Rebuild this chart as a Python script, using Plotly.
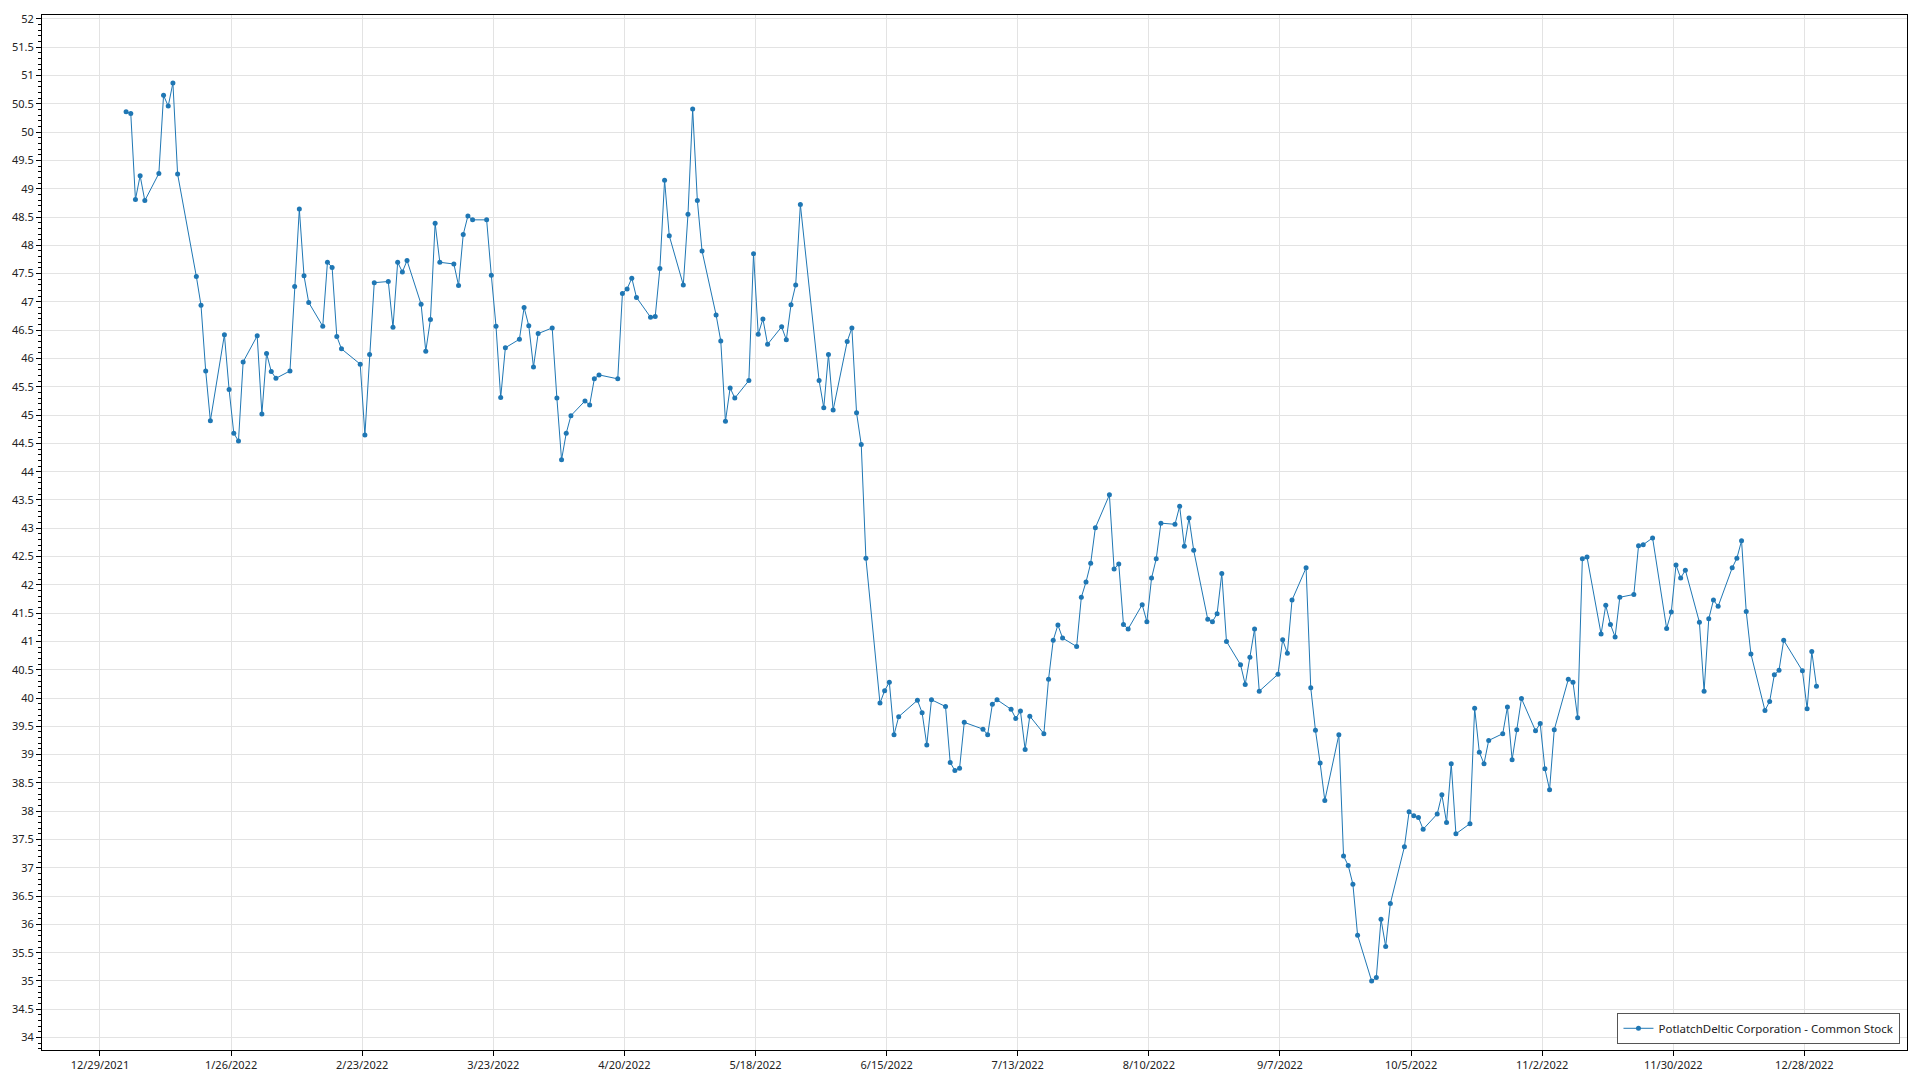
import plotly.graph_objects as go

SERIES_NAME = "PotlatchDeltic Corporation - Common Stock"

# Trading days of 2022 (day-of-month per month)
DAYS = {
    1: [3, 4, 5, 6, 7, 10, 11, 12, 13, 14, 18, 19, 20, 21, 24, 25, 26, 27, 28, 31],
    2: [1, 2, 3, 4, 7, 8, 9, 10, 11, 14, 15, 16, 17, 18, 22, 23, 24, 25, 28],
    3: [1, 2, 3, 4, 7, 8, 9, 10, 11, 14, 15, 16, 17, 18, 21, 22, 23, 24, 25, 28, 29, 30, 31],
    4: [1, 4, 5, 6, 7, 8, 11, 12, 13, 14, 18, 19, 20, 21, 22, 25, 26, 27, 28, 29],
    5: [2, 3, 4, 5, 6, 9, 10, 11, 12, 13, 16, 17, 18, 19, 20, 23, 24, 25, 26, 27, 31],
    6: [1, 2, 3, 6, 7, 8, 9, 10, 13, 14, 15, 16, 17, 21, 22, 23, 24, 27, 28, 29, 30],
    7: [1, 5, 6, 7, 8, 11, 12, 13, 14, 15, 18, 19, 20, 21, 22, 25, 26, 27, 28, 29],
    8: [1, 2, 3, 4, 5, 8, 9, 10, 11, 12, 15, 16, 17, 18, 19, 22, 23, 24, 25, 26, 29, 30, 31],
    9: [1, 2, 6, 7, 8, 9, 12, 13, 14, 15, 16, 19, 20, 21, 22, 23, 26, 27, 28, 29, 30],
    10: [3, 4, 5, 6, 7, 10, 11, 12, 13, 14, 17, 18, 19, 20, 21, 24, 25, 26, 27, 28, 31],
    11: [1, 2, 3, 4, 7, 8, 9, 10, 11, 14, 15, 16, 17, 18, 21, 22, 23, 25, 28, 29, 30],
    12: [1, 2, 5, 6, 7, 8, 9, 12, 13, 14, 15, 16, 19, 20, 21, 22, 23, 27, 28, 29, 30],
}

JAN = [50.36, 50.33, 48.81, 49.23, 48.79, 49.27, 50.65, 50.46, 50.87, 49.26, 47.45, 46.94, 45.78, 44.90, 46.42, 45.45, 44.68, 44.54, 45.94, 46.40]
FEB = [45.02, 46.09, 45.77, 45.65, 45.78, 47.27, 48.64, 47.46, 46.99, 46.57, 47.70, 47.61, 46.39, 46.17, 45.90, 44.65, 46.07, 47.34, 47.36]
MAR = [46.55, 47.70, 47.53, 47.73, 46.96, 46.13, 46.69, 48.39, 47.70, 47.67, 47.29, 48.19, 48.52, 48.45, 48.45, 47.47, 46.57, 45.31, 46.19, 46.34, 46.90, 46.58, 45.85]
APR = [46.44, 46.54, 45.30, 44.21, 44.68, 44.99, 45.25, 45.18, 45.64, 45.71, 45.64, 47.15, 47.23, 47.42, 47.08, 46.73, 46.74, 47.59, 49.15, 48.17]
MAY = [47.30, 48.55, 50.41, 48.79, 47.90, 46.77, 46.31, 44.89, 45.48, 45.30, 45.61, 47.85, 46.43, 46.70, 46.25, 46.56, 46.33, 46.95, 47.30, 48.72, 45.61]
JUN = [45.13, 46.07, 45.09, 46.30, 46.54, 45.04, 44.48, 42.47, 39.91, 40.13, 40.28, 39.35, 39.67, 39.96, 39.74, 39.17, 39.97, 39.85, 38.86, 38.72, 38.76]
JUL = [39.57, 39.45, 39.35, 39.89, 39.97, 39.80, 39.64, 39.77, 39.09, 39.68, 39.37, 40.33, 41.02, 41.29, 41.06, 40.91, 41.78, 42.05, 42.38, 43.01]
AUG = [43.59, 42.28, 42.37, 41.30, 41.22, 41.65, 41.35, 42.12, 42.46, 43.09, 43.07, 43.39, 42.68, 43.18, 42.61, 41.39, 41.35, 41.49, 42.20, 41.00, 40.59, 40.24, 40.72]
SEP = [41.22, 40.12, 40.42, 41.03, 40.79, 41.73, 42.30, 40.18, 39.43, 38.85, 38.19, 39.35, 37.21, 37.04, 36.71, 35.81, 35.00, 35.06, 36.09, 35.61, 36.37]
OCT = [37.37, 37.99, 37.92, 37.89, 37.68, 37.95, 38.29, 37.80, 38.84, 37.60, 37.78, 39.82, 39.04, 38.84, 39.25, 39.37, 39.84, 38.91, 39.44, 39.99, 39.42]
NOV = [39.55, 38.75, 38.38, 39.44, 40.33, 40.28, 39.65, 42.46, 42.49, 41.13, 41.64, 41.30, 41.08, 41.78, 41.83, 42.69, 42.71, 42.83, 41.23, 41.52, 42.35]
DEC = [42.12, 42.26, 41.34, 40.12, 41.40, 41.73, 41.62, 42.30, 42.47, 42.78, 41.53, 40.78, 39.78, 39.94, 40.41, 40.49, 41.02, 40.48, 39.81, 40.82, 40.21]

MONTH_VALUES = [JAN, FEB, MAR, APR, MAY, JUN, JUL, AUG, SEP, OCT, NOV, DEC]

dates = []
values = []
for m, vals in zip(range(1, 13), MONTH_VALUES):
    for d, v in zip(DAYS[m], vals):
        dates.append(f"2022-{m:02d}-{d:02d} 14:00")
        values.append(v)

color = "#1f77b4"
fig = go.Figure()
fig.add_trace(go.Scatter(
    x=dates, y=values, mode="lines+markers", name=SERIES_NAME,
    line=dict(color=color, width=1),
    marker=dict(color=color, size=5),
))

axis_font = dict(family="Noto Sans, Open Sans, sans-serif", size=11, color="#222222")
fig.update_layout(
    width=1912, height=1072,
    margin=dict(l=34, r=13, t=7, b=30, autoexpand=False),
    paper_bgcolor="white", plot_bgcolor="white",
    showlegend=True,
    legend=dict(
        x=0.9965, y=0.006, xanchor="right", yanchor="bottom",
        bgcolor="white", bordercolor="#555555", borderwidth=1,
        font=dict(family="Noto Sans, Open Sans, sans-serif", size=11.5, color="#222222"),
        itemwidth=30,
    ),
    xaxis=dict(
        type="date", automargin=False,
        range=["2021-12-16 15:00", "2023-01-18 22:00"],
        tick0="2021-12-29", dtick=28 * 86400000,
        tickformat="%-m/%-d/%Y",
        showgrid=True, gridcolor="#e3e3e3", gridwidth=1,
        showline=True, linecolor="black", linewidth=1, mirror=True,
        ticks="outside", ticklen=5, tickcolor="black",
        tickfont=axis_font, zeroline=False,
    ),
    yaxis=dict(
        automargin=False,
        range=[33.78, 52.07],
        tick0=34, dtick=0.5,
        showgrid=True, gridcolor="#e3e3e3", gridwidth=1,
        showline=True, linecolor="black", linewidth=1, mirror=True,
        ticks="outside", ticklen=5, tickcolor="black",
        minor=dict(dtick=0.1, ticks="outside", ticklen=3, tickcolor="black", showgrid=False),
        tickfont=axis_font, zeroline=False,
    ),
)

fig.write_html("out.html")
